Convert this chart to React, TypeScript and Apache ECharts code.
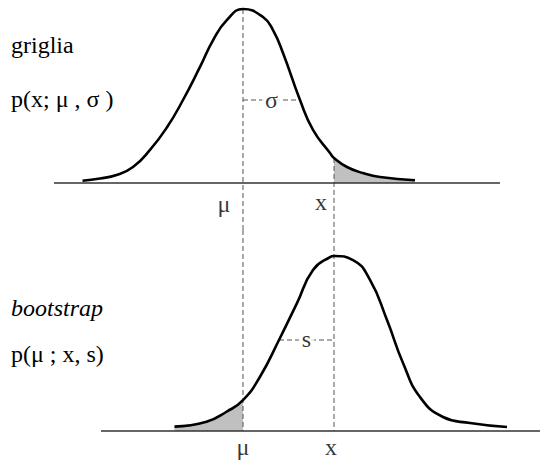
import React, { useEffect, useRef } from "react";
import * as echarts from "echarts";

// Marked positions on the shared horizontal scale
const MU = 0;
const X_OBS = 1.82;

// Upper panel: p(x; μ, σ) sampled along the curve
const topU = [-3.21, -2.86, -2.53, -2.2, -1.86, -1.52, -1.2, -0.86, -0.6, -0.32, 0, 0.4, 0.6, 0.8, 1.14, 1.4, 1.74, 1.82, 2.08, 2.4, 2.74, 3.44];
const topP = [0.013, 0.026, 0.046, 0.092, 0.19, 0.32, 0.477, 0.667, 0.82, 0.937, 1.0, 0.954, 0.879, 0.747, 0.477, 0.305, 0.172, 0.144, 0.092, 0.057, 0.034, 0.016];
const topBaseline = [-3.78, 5.14];
const sigmaLevel = 0.477;
const sigmaRight = 1.14;

// Lower panel: p(μ; x, s) sampled along the curve
const botU = [-1.37, -0.73, -0.33, 0, 0.34, 0.72, 1.08, 1.4, 1.74, 1.82, 2.2, 2.54, 2.88, 3.2, 3.54, 4.0, 4.54, 5.28];
const botP = [0.025, 0.053, 0.11, 0.177, 0.31, 0.52, 0.731, 0.92, 0.994, 1.0, 0.977, 0.863, 0.634, 0.389, 0.194, 0.08, 0.046, 0.023];
const botBaseline = [-2.84, 5.94];
const sLevel = 0.52;
const sLeft = 0.72;

// Texts
const topTitle = "griglia";
const topFormula = "p(x; μ , σ )";
const botTitle = "bootstrap";
const botFormula = "p(μ ; x, s)";

const X_MIN = -4.86;
const X_MAX = 5.94;
const TOP_Y = [-0.2701, 1.0517];
const BOT_Y = [-0.1714, 1.1486];

const SERIF = "Liberation Serif";
const FONT_SIZE = 24;
const INK = "#000";
const GUIDE = "#555";
const SHADE = "#c0c0c0";

const zip = (u: number[], p: number[]) => u.map((v, i) => [v, p[i]]);

export default function App() {
  const ref = useRef<HTMLDivElement>(null);

  useEffect(() => {
    if (!ref.current) return;
    const chart = echarts.init(ref.current, undefined, { renderer: "svg" });

    const topCurve = zip(topU, topP);
    const botCurve = zip(botU, botP);
    const topTail = topCurve.filter((d) => d[0] >= X_OBS);
    const botTail = botCurve.filter((d) => d[0] <= MU);
    const topPeak = Math.max(...topP);
    const topAtX = topP[topU.indexOf(X_OBS)];

    const dashed = (grid: number, data: number[][]) => ({
      type: "line",
      xAxisIndex: grid,
      yAxisIndex: grid,
      data,
      symbol: "none",
      silent: true,
      lineStyle: { color: GUIDE, width: 1, type: [5, 3] },
      z: 3,
    });

    const solid = (grid: number, data: number[][], color: string, width: number) => ({
      type: "line",
      xAxisIndex: grid,
      yAxisIndex: grid,
      data,
      symbol: "none",
      silent: true,
      lineStyle: { color, width },
      z: 4,
    });

    const tag = (
      grid: number,
      point: number[],
      text: string,
      offset: number[],
      bg?: string
    ) => ({
      type: "scatter",
      xAxisIndex: grid,
      yAxisIndex: grid,
      data: [point],
      symbolSize: 0,
      silent: true,
      z: 6,
      label: {
        show: true,
        position: "inside",
        offset,
        formatter: text,
        fontFamily: SERIF,
        fontSize: FONT_SIZE,
        color: INK,
        backgroundColor: bg,
        padding: bg ? [0, 3] : 0,
      },
    });

    const curve = (grid: number, data: number[][]) => ({
      type: "line",
      xAxisIndex: grid,
      yAxisIndex: grid,
      data,
      symbol: "none",
      smooth: 0.5,
      silent: true,
      lineStyle: { color: INK, width: 2.6 },
      z: 5,
    });

    const tail = (grid: number, data: number[][]) => ({
      type: "line",
      xAxisIndex: grid,
      yAxisIndex: grid,
      data,
      symbol: "none",
      smooth: 0.5,
      silent: true,
      lineStyle: { width: 0, opacity: 0 },
      areaStyle: { color: SHADE, opacity: 1 },
      z: 2,
    });

    const hiddenX = (grid: number) => ({
      type: "value",
      gridIndex: grid,
      min: X_MIN,
      max: X_MAX,
      show: false,
    });
    const hiddenY = (grid: number, r: number[]) => ({
      type: "value",
      gridIndex: grid,
      min: r[0],
      max: r[1],
      show: false,
    });

    const heading = (top: number, text: string, italic = false) => ({
      type: "text",
      left: 11,
      top,
      style: {
        text,
        fontFamily: SERIF,
        fontSize: FONT_SIZE,
        fontStyle: italic ? "italic" : "normal",
        fill: INK,
      },
    });

    chart.setOption({
      animation: false,
      backgroundColor: "#fff",
      grid: [
        { left: 0, right: 0, top: 0, height: 230 },
        { left: 0, right: 0, top: 230, height: 231 },
      ],
      xAxis: [hiddenX(0), hiddenX(1)],
      yAxis: [hiddenY(0, TOP_Y), hiddenY(1, BOT_Y)],
      graphic: [
        heading(33, topTitle),
        heading(87, topFormula),
        heading(296, botTitle, true),
        heading(342, botFormula),
      ],
      series: [
        // upper panel
        tail(0, topTail),
        solid(0, [[topBaseline[0], 0], [topBaseline[1], 0]], "#333", 1.3),
        dashed(0, [[MU, topPeak], [MU, TOP_Y[0]]]),
        dashed(0, [[X_OBS, topAtX], [X_OBS, TOP_Y[0]]]),
        dashed(0, [[MU, sigmaLevel], [sigmaRight, sigmaLevel]]),
        curve(0, topCurve),
        tag(0, [(MU + sigmaRight) / 2, sigmaLevel], "σ", [0, 0], "#fff"),
        tag(0, [MU, 0], "μ", [-19, 21]),
        tag(0, [X_OBS, 0], "x", [-13, 19]),
        // lower panel
        tail(1, botTail),
        solid(1, [[botBaseline[0], 0], [botBaseline[1], 0]], "#333", 1.3),
        dashed(1, [[MU, BOT_Y[1]], [MU, 0]]),
        dashed(1, [[X_OBS, BOT_Y[1]], [X_OBS, 0]]),
        dashed(1, [[sLeft, sLevel], [X_OBS, sLevel]]),
        curve(1, botCurve),
        tag(1, [(sLeft + X_OBS) / 2, sLevel], "s", [0, -1], "#fff"),
        tag(1, [MU, 0], "μ", [0, 16]),
        tag(1, [X_OBS, 0], "x", [-3, 16]),
      ],
    });

    return () => chart.dispose();
  }, []);

  return (
    <div
      ref={ref}
      style={{ position: "fixed", left: 0, top: 0, width: 540, height: 461, background: "#fff" }}
    />
  );
}
